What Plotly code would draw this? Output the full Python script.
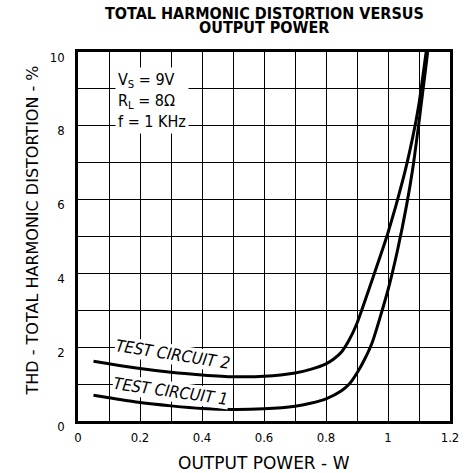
import plotly.graph_objects as go

# Data
tc2_x = [0.05, 0.1, 0.2, 0.3, 0.4, 0.5, 0.6, 0.7, 0.75, 0.8, 0.825, 0.85, 0.875, 0.9, 0.95, 1.0, 1.05, 1.08, 1.1, 1.123]
tc2_y = [1.62, 1.55, 1.42, 1.32, 1.25, 1.2, 1.21, 1.3, 1.4, 1.55, 1.68, 1.87, 2.2, 2.65, 3.85, 5.1, 6.6, 7.7, 8.6, 10.0]
tc1_x = [0.05, 0.1, 0.2, 0.3, 0.4, 0.5, 0.6, 0.7, 0.75, 0.8, 0.85, 0.875, 0.9, 0.925, 0.95, 1.0, 1.03, 1.06, 1.08, 1.1, 1.128]
tc1_y = [0.7, 0.63, 0.5, 0.41, 0.34, 0.31, 0.33, 0.4, 0.48, 0.6, 0.82, 1.0, 1.3, 1.68, 2.15, 3.55, 4.6, 5.85, 6.85, 8.1, 10.0]
x_ticks = [0, 0.2, 0.4, 0.6, 0.8, 1.0, 1.2]
x_tick_text = ["0", "0.2", "0.4", "0.6", "0.8", "1", "1.2"]
y_ticks = [0, 2, 4, 6, 8, 10]

FONT = "DejaVu Sans Condensed, DejaVu Sans, sans-serif"

fig = go.Figure()
for xs, ys in [(tc2_x, tc2_y), (tc1_x, tc1_y)]:
    fig.add_trace(go.Scatter(x=xs, y=ys, mode="lines",
                             line=dict(color="black", width=3, shape="spline", smoothing=0.6),
                             showlegend=False, hoverinfo="skip"))

axis_common = dict(showline=True, linecolor="black", linewidth=2.5, mirror=True,
                   showgrid=True, gridcolor="black", gridwidth=1.3,
                   ticks="", zeroline=False,
                   tickfont=dict(family=FONT, size=13, color="black"))

fig.update_xaxes(range=[0, 1.2], tickvals=x_ticks, ticktext=x_tick_text,
                 minor=dict(dtick=0.1, tick0=0, showgrid=True, gridcolor="black", gridwidth=1.3),
                 ticklabelstandoff=3, **axis_common)
fig.update_yaxes(range=[0, 10], tickvals=y_ticks,
                 minor=dict(dtick=1, tick0=0, showgrid=True, gridcolor="black", gridwidth=1.3),
                 ticklabelstandoff=8, ticklabelshift=5, **axis_common)

annotations = [
    dict(text="<b>TOTAL HARMONIC DISTORTION VERSUS</b>", xref="paper", yref="paper",
         x=0.5, y=1.0, yshift=39, xanchor="center", yanchor="middle", showarrow=False,
         font=dict(family=FONT, size=16, color="black")),
    dict(text="<b>OUTPUT POWER</b>", xref="paper", yref="paper",
         x=0.5, y=1.0, yshift=25, xanchor="center", yanchor="middle", showarrow=False,
         font=dict(family=FONT, size=16, color="black")),
    dict(text="OUTPUT POWER - W", xref="paper", yref="paper", x=0.5, y=0, yshift=-42,
         xanchor="center", yanchor="middle", showarrow=False,
         font=dict(family="DejaVu Sans, sans-serif", size=17, color="black")),
    dict(text="THD - TOTAL HARMONIC DISTORTION - %", xref="paper", yref="paper", x=0, xshift=-46,
         y=0.5, yshift=6, xanchor="center", yanchor="middle", textangle=-90, showarrow=False,
         font=dict(family="DejaVu Sans, sans-serif", size=16, color="black")),
    dict(text="V<sub>S</sub> = 9V<br>R<sub>L</sub> = 8Ω<br>f = 1 KHz", x=0.12, y=9.6, xref="x", yref="y",
         xanchor="left", yanchor="top", align="left", showarrow=False, bgcolor="white", borderpad=2,
         font=dict(family=FONT, size=16, color="black")),
    dict(text="<i>TEST CIRCUIT 2</i>", x=0.306, y=1.79, xref="x", yref="y", textangle=9,
         showarrow=False, bgcolor="white", borderpad=0,
         font=dict(family=FONT, size=16.5, color="black")),
    dict(text="<i>TEST CIRCUIT 1</i>", x=0.3, y=0.81, xref="x", yref="y", textangle=8,
         showarrow=False, bgcolor="white", borderpad=0,
         font=dict(family=FONT, size=16.5, color="black")),
]

fig.update_layout(width=471, height=473, margin=dict(l=78, r=21, t=52, b=52),
                  plot_bgcolor="white", paper_bgcolor="white", annotations=annotations)

# remove the page's default body margin so the figure fills the window exactly
fig.write_html("out.html", config={"displayModeBar": False},
               post_script="document.body.style.margin='0px';document.body.style.overflow='hidden';")
